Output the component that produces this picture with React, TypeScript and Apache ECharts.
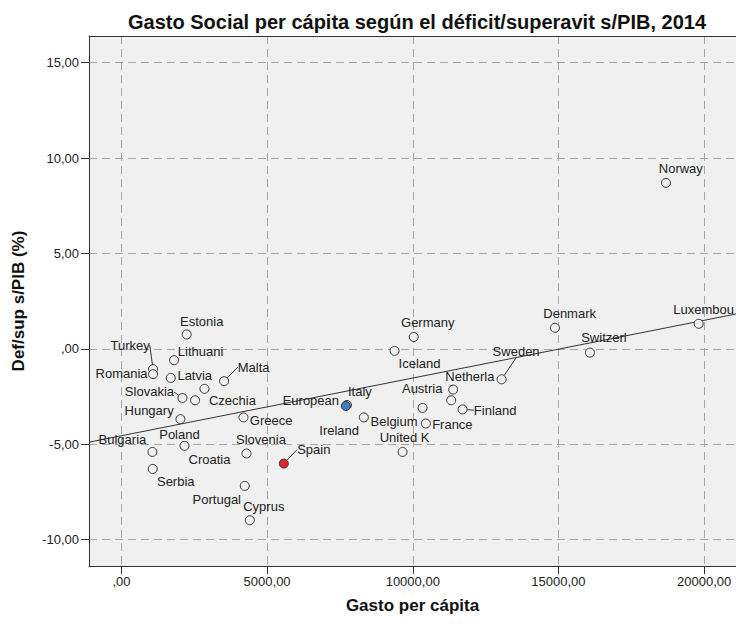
import React, { useEffect, useRef } from "react";
import * as echarts from "echarts";

const countries = [
  "Estonia", "Lithuania", "Turkey", "Romania", "Latvia", "Malta", "Czechia", "Slovakia",
  "Hungary", "Poland", "Greece", "Bulgaria", "Croatia", "Slovenia", "Serbia", "Portugal",
  "Cyprus", "Spain", "Italy", "European Union", "Ireland", "Belgium", "France",
  "United Kingdom", "Germany", "Iceland", "Austria", "Netherlands", "Finland", "Sweden",
  "Denmark", "Switzerland", "Luxembourg", "Norway",
];
const spending = [
  2242, 1807, 1086, 1086, 1693, 3524, 2850, 2094,
  2528, 2026, 4190, 1064, 2163, 4293, 1075, 4234,
  4407, 5573, 7740, 7703, 8321, 10337, 10450,
  9650, 10034, 9375, 11319, 11387, 11710, 13049,
  14880, 16082, 19815, 18692,
];
const deficit = [
  0.75, -0.6, -1.07, -1.33, -1.53, -1.7, -2.1, -2.58,
  -2.7, -3.69, -3.6, -5.41, -5.09, -5.49, -6.3, -7.19,
  -8.99, -6.02, -2.95, -3.0, -3.6, -3.1, -3.92,
  -5.41, 0.62, -0.11, -2.7, -2.14, -3.18, -1.6,
  1.1, -0.2, 1.31, 8.7,
];
const xTicks = [0, 5000, 10000, 15000, 20000];
const yTicks = [-10, -5, 0, 5, 10, 15];
const X_MIN = -1113;
const X_MAX = 21095;
const Y_MIN = -11.39;
const Y_MAX = 16.4;
const fitIntercept = -4.56;
const fitSlope = 0.0003026;

const highlight: Record<string, string> = { "European Union": "#3f7fc4", Spain: "#e3262c" };
const labelOffsets: Record<string, [number, number]> = {
  Estonia: [15, -13], Lithuania: [26.5, -9], Turkey: [-23, -24], Romania: [-31.5, -1],
  Latvia: [24, -2], Malta: [29.5, -14], Czechia: [28, 12], Slovakia: [-33, -6],
  Hungary: [-46, 10], Poland: [-1, 15], Greece: [27.6, 2.7], Bulgaria: [-30, -12],
  Croatia: [25, 14], Slovenia: [14.5, -14], Serbia: [23, 13], Portugal: [-28, 14],
  Cyprus: [14, -14], Spain: [30, -14], "European Union": [-35, -5], Italy: [13, -14],
  Ireland: [-24.7, 12.7], Belgium: [-28.5, 14], France: [26.5, 0.7], "United Kingdom": [2, -14.4],
  Germany: [14, -14], Iceland: [25, 12.6], Austria: [-29, -12], Netherlands: [16.7, -12.6],
  Finland: [32.6, 0.7], Sweden: [14.5, -28], Denmark: [14.7, -14.4], Switzerland: [14, -15],
  Luxembourg: [5, -14], Norway: [14.8, -14.4],
};
const leaderLines = ["Turkey", "Malta", "Slovakia", "Spain", "Finland", "Sweden"];

const FONT = '"Liberation Sans", Arial, sans-serif';

const fmt = (v: number) => {
  let s = Math.abs(v).toFixed(2).replace(".", ",");
  if (s.startsWith("0,")) s = s.slice(1);
  return (v < 0 ? "-" : "") + s;
};

export default function App() {
  const ref = useRef<HTMLDivElement>(null);
  useEffect(() => {
    if (!ref.current) return;
    const chart = echarts.init(ref.current, undefined, { renderer: "svg" });
    const data = countries.map((name, i) => ({
      name,
      value: [spending[i], deficit[i]],
      itemStyle: highlight[name] ? { color: highlight[name] } : undefined,
      labelLine: { show: leaderLines.includes(name) },
    }));
    const axisCommon = {
      axisLine: { show: true, onZero: false, lineStyle: { color: "#333", width: 1 } },
      axisTick: { show: true, length: 8, inside: false, lineStyle: { color: "#333" } },
      splitLine: { show: true, lineStyle: { color: "#a6a6a6", type: [8, 5] as any, width: 1 } },
      axisLabel: { color: "#222", fontSize: 13, fontFamily: FONT, formatter: fmt },
      nameTextStyle: { color: "#111", fontSize: 17, fontWeight: "bold" as const, fontFamily: FONT },
    };
    chart.setOption({
      animation: false,
      backgroundColor: "#ffffff",
      title: {
        text: "Gasto Social per cápita según el déficit/superavit s/PIB, 2014",
        left: 412,
        top: 7,
        textAlign: "center",
        textStyle: { fontSize: 20, fontWeight: "bold", color: "#111", fontFamily: FONT },
      },
      grid: {
        left: 89, right: 0, top: 36, bottom: 60,
        show: true, backgroundColor: "#f0f0f0", borderWidth: 0,
        containLabel: false, outerBoundsMode: "none",
      },
      xAxis: [
        {
          type: "value", min: X_MIN, max: X_MAX, position: "bottom",
          ...axisCommon,
          axisLabel: { ...axisCommon.axisLabel, margin: 9, customValues: xTicks },
          axisTick: { ...axisCommon.axisTick, customValues: xTicks },
          name: "Gasto per cápita", nameLocation: "middle", nameGap: 31,
        },
        {
          type: "value", min: X_MIN, max: X_MAX, position: "top",
          axisLine: { show: true, onZero: false, lineStyle: { color: "#333", width: 1 } },
          axisTick: { show: false }, axisLabel: { show: false }, splitLine: { show: false },
        },
      ],
      yAxis: {
        type: "value", min: Y_MIN, max: Y_MAX,
        ...axisCommon,
        axisLabel: { ...axisCommon.axisLabel, margin: 10, customValues: yTicks },
        axisTick: { ...axisCommon.axisTick, customValues: yTicks },
        name: "Def/sup s/PIB (%)", nameLocation: "middle", nameGap: 62, nameRotate: 90,
      },
      series: [
        {
          type: "line",
          xAxisIndex: 0,
          data: [X_MIN, X_MAX].map((x) => [x, fitIntercept + fitSlope * x]),
          symbol: "none",
          lineStyle: { color: "#333", width: 1 },
          silent: true,
          z: 3,
        },
        {
          type: "scatter",
          xAxisIndex: 0,
          data,
          symbol: "circle",
          symbolSize: 9,
          itemStyle: { color: "#f0f0f0", borderColor: "#333", borderWidth: 1, opacity: 1 },
          label: {
            show: true,
            position: "inside",
            formatter: (p: any) => String(p.name).substring(0, 8),
            color: "#222",
            fontSize: 13,
            fontFamily: FONT,
          },
          labelLine: { show: false, lineStyle: { color: "#333", width: 1 } },
          labelLayout: (p: any) => {
            const o = labelOffsets[countries[p.dataIndex]] || [0, 0];
            return { dx: o[0], dy: o[1] };
          },
          z: 4,
        },
      ],
    });
    return () => chart.dispose();
  }, []);
  return (
    <div
      ref={ref}
      style={{ position: "fixed", left: 0, top: 0, width: 736, height: 626, background: "#fff" }}
    />
  );
}
